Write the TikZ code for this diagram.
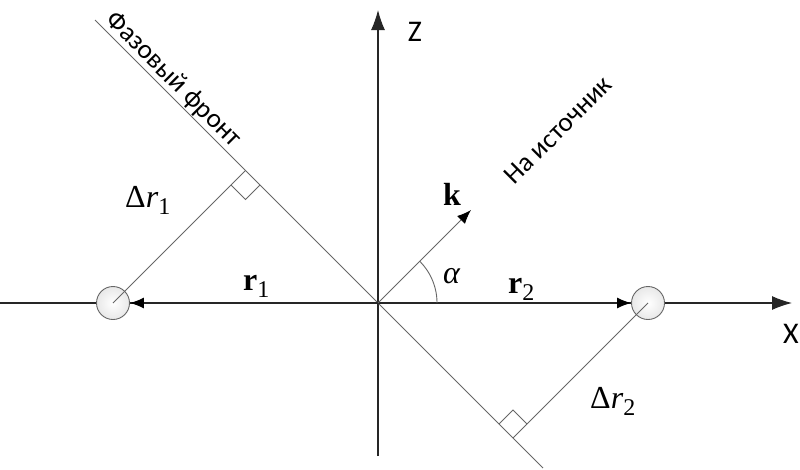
\documentclass[tikz,border=0pt]{standalone}
\usepackage{fontspec}
\setmainfont{Liberation Serif}
\newfontfamily\sansf{Carlito}
\usetikzlibrary{arrows.meta,calc}
\newcommand{\mysub}[1]{\raisebox{-7pt}{\fontsize{24}{24}\selectfont #1}}
\begin{document}
\begin{tikzpicture}[x=1pt,y=-1pt,
  axis/.style={draw=black!85, line width=1.1pt},
  thinl/.style={draw=black!60, line width=0.9pt},
  bigtip/.style={-{Latex[length=20pt,width=14pt]}},
  smalltip/.style={-{Latex[length=14pt,width=11pt,color=black]}},
  ant/.style={circle, minimum size=33pt, inner sep=0pt, draw=black!60, line width=0.9pt, inner color=white, outer color=black!9},
  lab/.style={inner sep=0pt, font=\fontsize{32}{36}\selectfont},
  sanslab/.style={font=\sansf\fontsize{30}{34}\selectfont, inner sep=0pt},
  cyr/.style={font=\sansf\fontsize{27}{30}\selectfont, inner sep=1.5pt}
]
\useasboundingbox (0,0) rectangle (800,469);
\coordinate (O) at (378,303);
\coordinate (xl) at (0,303);
\coordinate (xr) at (792,303);
\coordinate (zb) at (378,456);
\coordinate (zt) at (378,10);
\coordinate (ft) at (95,20);
\coordinate (fb) at (543,468);
\coordinate (F1) at (245.5,170.5);
\coordinate (F2) at (513,438);
\coordinate (kt) at (471,210);

\draw[axis, bigtip] (xl) -- (xr);
\draw[axis, bigtip] (zb) -- (zt);
\draw[thinl] (ft) -- (fb);
\node[ant] (c1) at (113,303) {};
\node[ant] (c2) at (648,303) {};
\draw[thinl] (c1.center) -- (F1);
\draw[thinl] (c2.center) -- (F2);
\draw[axis, smalltip] (O) -- (c1);
\draw[axis, smalltip] (O) -- (c2);
\draw[thinl, smalltip] (O) -- (kt);
\draw[thinl] ($(F1)+(-14.5,14.5)$) -- ++(14.5,14.5) -- ++(14.5,-14.5);
\draw[thinl] ($(F2)+(-14,-14)$) -- ++(14,-14) -- ++(14,14);
\draw[thinl] plot[domain=0:45, samples=30] ({378+59*cos(\x)},{303-59*sin(\x)});

\node[cyr, rotate=-45, anchor=south] (pf) at (164,89) {Фазовый фронт};
\node[cyr, rotate=45] (src) at (558,130) {На источник};
\node[sanslab] (zl) at (415,32) {Z};
\node[sanslab] (xlab) at (791,334) {X};
\node[lab, anchor=base west] (d1) at (125,207) {Δ\textit{r}\mysub{1}};
\node[lab, anchor=base west] (d2) at (590,408) {Δ\textit{r}\mysub{2}};
\node[lab, anchor=base west] (r1) at (243,290) {\textbf{r}\mysub{1}};
\node[lab, anchor=base west] (r2) at (508,293) {\textbf{r}\mysub{2}};
\node[lab, anchor=base] (kl) at (452,205) {\textbf{k}};
\node[lab, anchor=base west] (al) at (443,283) {\textit{α}};
\end{tikzpicture}
\end{document}
